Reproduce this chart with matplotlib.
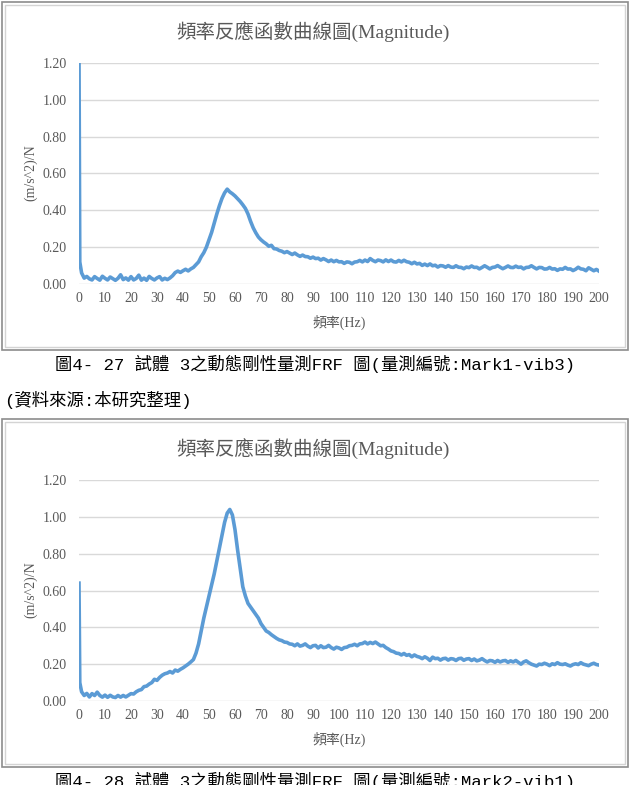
#Frequency response (magnitude) charts for two measurement points

import numpy as np
import matplotlib
matplotlib.use("Agg")
import matplotlib.pyplot as plt
from matplotlib.patches import Rectangle

W, H = 631, 785

# frequency axis (Hz): the first sample sits just off zero, then 1 Hz steps
freq = np.concatenate(([0.0, 0.3], np.arange(1, 201)))

# Mark1-vib3
mag1 = [1.25, 0.12,
        0.060, 0.032, 0.041, 0.028, 0.022, 0.040, 0.030, 0.021, 0.042, 0.031,
        0.022, 0.038, 0.029, 0.020, 0.031, 0.050, 0.024, 0.033, 0.021, 0.040,
        0.022, 0.030, 0.048, 0.021, 0.032, 0.020, 0.041, 0.030, 0.022, 0.033,
        0.040, 0.022, 0.031, 0.024, 0.033, 0.045, 0.062, 0.070, 0.063, 0.072,
        0.080, 0.071, 0.082, 0.090, 0.105, 0.120, 0.148, 0.170, 0.200, 0.240,
        0.280, 0.330, 0.380, 0.425, 0.465, 0.495, 0.515, 0.500, 0.490, 0.478,
        0.463, 0.448, 0.430, 0.410, 0.380, 0.340, 0.305, 0.278, 0.255, 0.240,
        0.228, 0.218, 0.205, 0.210, 0.192, 0.190, 0.182, 0.178, 0.170, 0.176,
        0.168, 0.160, 0.168, 0.158, 0.150, 0.157, 0.149, 0.148, 0.140, 0.146,
        0.138, 0.140, 0.130, 0.138, 0.131, 0.122, 0.130, 0.121, 0.128, 0.120,
        0.121, 0.112, 0.120, 0.118, 0.110, 0.119, 0.121, 0.128, 0.120, 0.130,
        0.122, 0.138, 0.128, 0.121, 0.130, 0.127, 0.120, 0.131, 0.122, 0.130,
        0.121, 0.119, 0.128, 0.120, 0.129, 0.121, 0.118, 0.110, 0.118, 0.109,
        0.112, 0.101, 0.108, 0.100, 0.109, 0.099, 0.102, 0.092, 0.100, 0.098,
        0.091, 0.100, 0.092, 0.090, 0.099, 0.091, 0.090, 0.083, 0.092, 0.089,
        0.098, 0.090, 0.091, 0.082, 0.090, 0.099, 0.091, 0.082, 0.090, 0.092,
        0.100, 0.091, 0.083, 0.090, 0.098, 0.090, 0.089, 0.097, 0.090, 0.092,
        0.082, 0.090, 0.091, 0.099, 0.090, 0.082, 0.090, 0.089, 0.081, 0.082,
        0.090, 0.081, 0.083, 0.074, 0.082, 0.080, 0.090, 0.081, 0.082, 0.073,
        0.080, 0.091, 0.082, 0.080, 0.072, 0.088, 0.080, 0.072, 0.079, 0.070]

# Mark2-vib1
mag2 = [0.64, 0.10,
        0.050, 0.030, 0.041, 0.022, 0.040, 0.030, 0.048, 0.030, 0.021, 0.032,
        0.020, 0.031, 0.022, 0.019, 0.030, 0.021, 0.030, 0.022, 0.031, 0.040,
        0.038, 0.050, 0.058, 0.062, 0.078, 0.081, 0.092, 0.100, 0.118, 0.112,
        0.128, 0.140, 0.148, 0.152, 0.160, 0.152, 0.168, 0.162, 0.172, 0.180,
        0.190, 0.200, 0.212, 0.225, 0.260, 0.310, 0.380, 0.450, 0.510, 0.570,
        0.630, 0.690, 0.760, 0.830, 0.900, 0.970, 1.020, 1.040, 1.010, 0.930,
        0.820, 0.720, 0.620, 0.570, 0.530, 0.510, 0.490, 0.470, 0.450, 0.420,
        0.400, 0.380, 0.372, 0.360, 0.350, 0.340, 0.332, 0.328, 0.320, 0.318,
        0.310, 0.308, 0.300, 0.310, 0.298, 0.302, 0.310, 0.298, 0.290, 0.300,
        0.302, 0.288, 0.300, 0.290, 0.292, 0.302, 0.290, 0.282, 0.292, 0.288,
        0.280, 0.290, 0.292, 0.300, 0.302, 0.308, 0.300, 0.310, 0.312, 0.320,
        0.310, 0.318, 0.312, 0.320, 0.310, 0.300, 0.302, 0.290, 0.282, 0.272,
        0.268, 0.260, 0.258, 0.250, 0.258, 0.248, 0.252, 0.240, 0.250, 0.242,
        0.238, 0.230, 0.240, 0.232, 0.220, 0.238, 0.230, 0.232, 0.222, 0.230,
        0.232, 0.222, 0.230, 0.228, 0.220, 0.230, 0.232, 0.221, 0.228, 0.230,
        0.220, 0.228, 0.218, 0.222, 0.230, 0.220, 0.212, 0.220, 0.218, 0.210,
        0.220, 0.212, 0.218, 0.220, 0.210, 0.218, 0.212, 0.220, 0.210, 0.200,
        0.212, 0.218, 0.208, 0.200, 0.195, 0.190, 0.200, 0.198, 0.205, 0.200,
        0.192, 0.202, 0.198, 0.208, 0.200, 0.198, 0.202, 0.195, 0.190, 0.198,
        0.202, 0.198, 0.208, 0.200, 0.196, 0.192, 0.200, 0.205, 0.198, 0.195]

yticks = [0.0, 0.2, 0.4, 0.6, 0.8, 1.0, 1.2]
xticks = list(range(0, 201, 10))

chart_title = "頻率反應函數曲線圖(Magnitude)"
x_label = "頻率(Hz)"
y_label = "(m/s^2)/N"
caption1 = "圖4- 27 試體 3之動態剛性量測FRF 圖(量測編號:Mark1-vib3)"
source = "(資料來源:本研究整理)"
caption2 = "圖4- 28 試體 3之動態剛性量測FRF 圖(量測編號:Mark2-vib1)"

serif = ['Liberation Serif', 'Noto Sans CJK TC']
mono = ['Liberation Mono', 'Noto Sans CJK TC']
grey = '#595959'


def fx(px):
    return px / W


def fy(py):
    return 1 - py / H


def panel(fig, top_px, mag):
    # frame round the chart
    fig.patches.append(Rectangle((fx(2), fy(top_px + 348)), fx(626), 348 / H,
                                 transform=fig.transFigure, fill=False,
                                 edgecolor='#8c8c8c', linewidth=1.2))
    fig.patches.append(Rectangle((fx(5), fy(top_px + 345)), fx(620), 342 / H,
                                 transform=fig.transFigure, fill=False,
                                 edgecolor='#d4d4d4', linewidth=1.0))

    ax = fig.add_axes([fx(79), fy(top_px + 282), fx(520), 221 / H])
    ax.plot(freq, mag, color='#5B9BD5', linewidth=2.6, solid_joinstyle='round')
    ax.set_xlim(0, 200)
    ax.set_ylim(0, 1.2)
    ax.set_yticks(yticks)
    ax.set_yticklabels(["%.2f" % v for v in yticks])
    ax.set_xticks(xticks)
    ax.set_xticklabels([str(v) for v in xticks])
    for s in ax.spines.values():
        s.set_visible(False)
    ax.grid(True, axis='y', color='#d9d9d9', linewidth=1.0)
    ax.set_axisbelow(True)
    ax.tick_params(length=0, labelcolor=grey, labelsize=10)
    ax.tick_params(axis='y', pad=9)
    ax.tick_params(axis='x', pad=6)
    for lab in ax.get_xticklabels() + ax.get_yticklabels():
        lab.set_fontfamily(serif)

    fig.text(fx(313), fy(top_px + 30), chart_title, ha='center', va='center',
             fontsize=14, color=grey, family=serif)
    fig.text(fx(339), fy(top_px + 320), x_label, ha='center', va='center',
             fontsize=10, color=grey, family=serif)
    fig.text(fx(31), fy(top_px + 171), y_label, ha='center', va='center',
             rotation=90, fontsize=10, color=grey, family=serif)


fig = plt.figure(figsize=(W / 100, H / 100), dpi=100)

panel(fig, 2, mag1)
fig.text(fx(315), fy(364), caption1, ha='center', va='center', fontsize=12.5, family=mono)
fig.text(fx(4), fy(400), source, ha='left', va='center', fontsize=12.5, family=mono)

panel(fig, 419, mag2)
fig.text(fx(315), fy(781), caption2, ha='center', va='center', fontsize=12.5, family=mono)

fig.savefig("out.png", dpi=100)
